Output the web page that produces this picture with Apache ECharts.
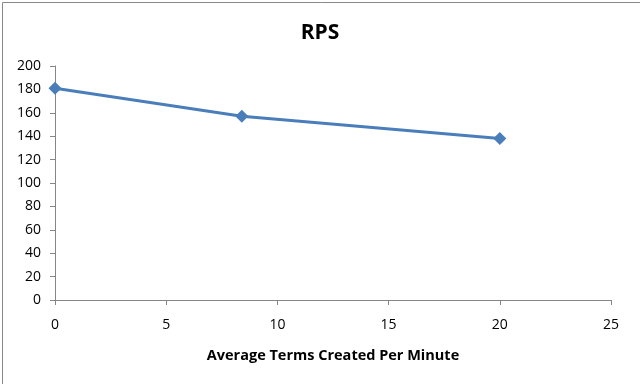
<!DOCTYPE html>
<html>
<head>
<meta charset="utf-8">
<script src="https://cdn.jsdelivr.net/npm/echarts@6/dist/echarts.min.js"></script>
<style>html,body{margin:0;padding:0;background:#fff;}#c{width:640px;height:384px;}</style>
</head>
<body>
<div id="c"></div>
<script>
const titleText = "RPS";
const xAxisName = "Average Terms Created Per Minute";
const xValues = [0, 8.4, 20];
const rpsValues = [181, 157, 138];

const chart = echarts.init(document.getElementById('c'));
const axisColor = '#868686';
const labelFont = { color: '#000', fontSize: 14, fontFamily: 'Open Sans, Liberation Sans, sans-serif' };
chart.setOption({
  animation: false,
  backgroundColor: '#fff',
  title: {
    text: titleText, left: 'center', top: 18,
    textStyle: { fontSize: 21, fontWeight: 'bold', color: '#000', fontFamily: 'Open Sans, Liberation Sans, sans-serif' }
  },
  graphic: [{
    type: 'rect', left: 0, top: 0, silent: true,
    shape: { x: 0.5, y: 0.5, width: 639, height: 383 },
    style: { fill: 'none', stroke: '#888', lineWidth: 1 }
  }],
  grid: { left: 55, right: 29, top: 66, bottom: 84 },
  xAxis: {
    type: 'value', min: 0, max: 25, interval: 5,
    name: xAxisName, nameLocation: 'middle', nameGap: 48,
    nameTextStyle: { fontSize: 14.5, fontWeight: 'bold', color: '#000', fontFamily: 'Open Sans, Liberation Sans, sans-serif' },
    axisLine: { show: true, lineStyle: { color: axisColor } },
    axisTick: { show: true, length: 5, lineStyle: { color: axisColor } },
    axisLabel: Object.assign({ margin: 18 }, labelFont),
    splitLine: { show: false }
  },
  yAxis: {
    type: 'value', min: 0, max: 200, interval: 20,
    axisLine: { show: true, lineStyle: { color: axisColor } },
    axisTick: { show: true, length: 5, lineStyle: { color: axisColor } },
    axisLabel: Object.assign({ margin: 14 }, labelFont),
    splitLine: { show: false }
  },
  series: [{
    type: 'line',
    data: xValues.map((x, i) => [x, rpsValues[i]]),
    symbol: 'diamond', symbolSize: 13,
    lineStyle: { color: '#4A7EBB', width: 3 },
    itemStyle: { color: '#4A7EBB' }
  }]
});
</script>
</body>
</html>
